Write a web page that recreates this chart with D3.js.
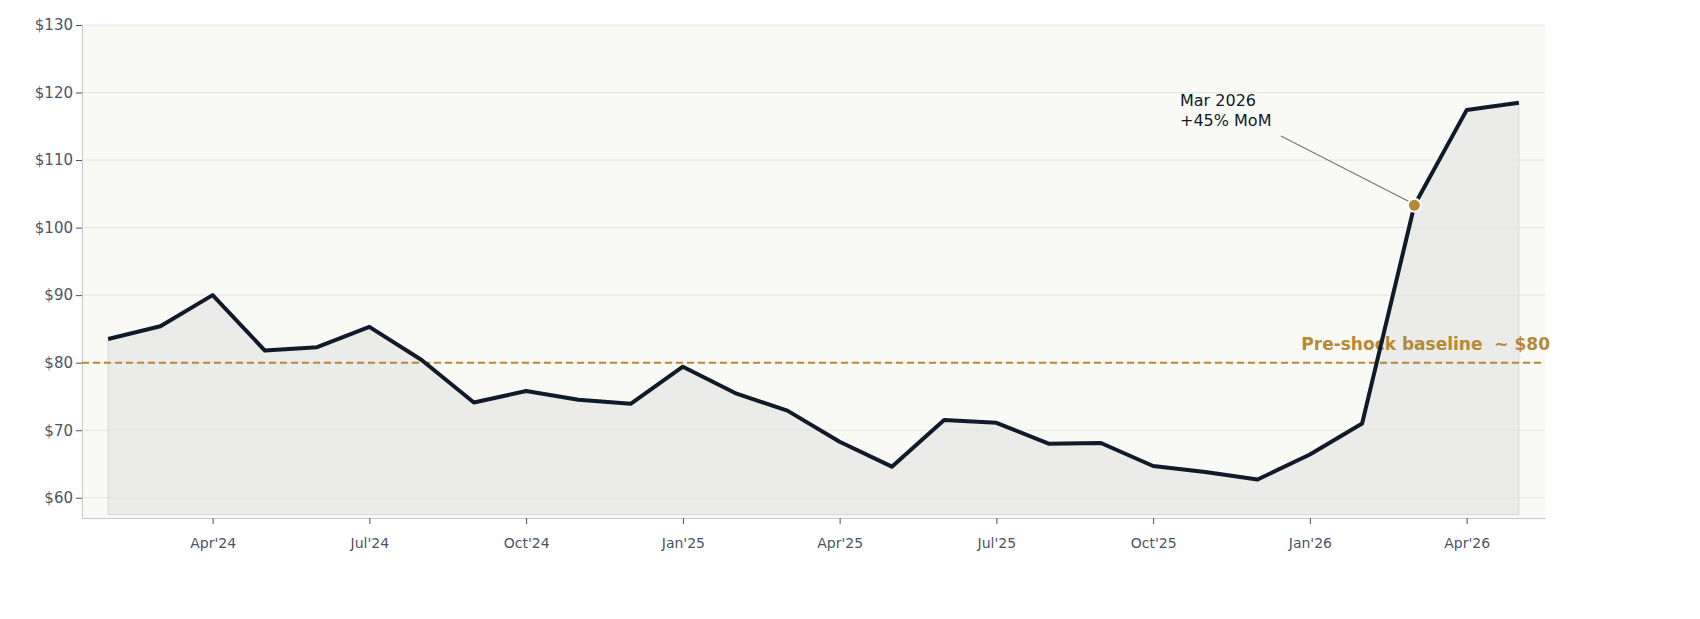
<!DOCTYPE html>
<html><head><meta charset="utf-8">
<script src="https://cdn.jsdelivr.net/npm/d3@7"></script>
<style>body{margin:0;background:#fff;font-family:"DejaVu Sans",sans-serif}</style>
</head><body><svg id="c" width="1700" height="619"></svg>
<script>
const months = ["Feb'24","Mar'24","Apr'24","May'24","Jun'24","Jul'24","Aug'24","Sep'24","Oct'24","Nov'24","Dec'24","Jan'25","Feb'25","Mar'25","Apr'25","May'25","Jun'25","Jul'25","Aug'25","Sep'25","Oct'25","Nov'25","Dec'25","Jan'26","Feb'26","Mar'26","Apr'26","May'26"];
const values = [83.5,85.4,90.0,81.8,82.3,85.3,80.4,74.1,75.8,74.5,73.9,79.4,75.5,72.9,68.3,64.6,71.5,71.1,68.0,68.1,64.7,63.8,62.7,66.4,71.0,103.3,117.4,118.5];
const xTickLabels = ["Apr'24","Jul'24","Oct'24","Jan'25","Apr'25","Jul'25","Oct'25","Jan'26","Apr'26"];
const yTicks = [60,70,80,90,100,110,120,130];
const baseline = 80;
const annotIndex = 25;

const svg = d3.select("#c");
const L=82,R=1545,T=25,B=518;
const x = d3.scaleLinear().domain([-0.5,months.length-0.5]).range([L,R]);
const y = d3.scaleLinear().domain([57,130]).range([B,T]);
svg.append("rect").attr("x",L).attr("y",T).attr("width",R-L).attr("height",B-T).attr("fill","#f9f9f6");
svg.append("g").selectAll("line").data(yTicks).join("line")
 .attr("x1",L).attr("x2",R).attr("y1",d=>y(d)).attr("y2",d=>y(d)).attr("stroke","#e3e4e6").attr("stroke-width",1);
svg.append("path").datum(values).attr("fill","#e6e6e4").attr("fill-opacity",0.75).attr("stroke","#d8d8d8")
 .attr("d",d3.area().x((d,i)=>x(i)).y0(y(57.5)).y1(d=>y(d)));
const ya = svg.append("g").attr("transform",`translate(${L},0)`).call(d3.axisLeft(y).tickValues(yTicks).tickFormat(d=>"$"+d).tickSize(6).tickSizeOuter(0));
const xa = svg.append("g").attr("transform",`translate(0,${B})`).call(d3.axisBottom(x).tickValues(xTickLabels.map(l=>months.indexOf(l))).tickFormat(i=>months[i]).tickSize(6).tickSizeOuter(0).tickPadding(14));
[ya,xa].forEach(a=>{a.select(".domain").attr("stroke","#c5c8cf");a.selectAll(".tick line").attr("stroke","#4a5060");a.selectAll("text").attr("fill","#4a5468").attr("font-family","DejaVu Sans");});
ya.selectAll("text").attr("font-size",15);
xa.selectAll("text").attr("font-size",14);
svg.append("line").attr("x1",L).attr("x2",R).attr("y1",y(baseline)).attr("y2",y(baseline)).attr("stroke","#b58a36").attr("stroke-width",2).attr("stroke-dasharray","7,4");
svg.append("text").attr("x",1550).attr("y",y(baseline)-13).attr("text-anchor","end").attr("fill","#b58a36").attr("font-weight","bold").attr("font-size",17).attr("xml:space","preserve").text("Pre-shock baseline  ~ $80");
svg.append("path").datum(values).attr("fill","none").attr("stroke","#111a29").attr("stroke-width",4).attr("stroke-linejoin","round")
 .attr("d",d3.line().x((d,i)=>x(i)).y(d=>y(d)));
const ax=x(annotIndex), ay=y(values[annotIndex]);
svg.append("line").attr("x1",1281).attr("y1",136).attr("x2",ax-4).attr("y2",ay-3).attr("stroke","#777").attr("stroke-width",1.2);
svg.append("circle").attr("cx",ax).attr("cy",ay).attr("r",6.5).attr("fill","#b58a36").attr("stroke","#fff").attr("stroke-width",2);
const t=svg.append("text").attr("x",1180).attr("fill","#111a29").attr("font-size",16);
t.append("tspan").attr("x",1180).attr("y",106).text("Mar 2026");
t.append("tspan").attr("x",1180).attr("y",126).text("+45% MoM");
</script></body></html>
